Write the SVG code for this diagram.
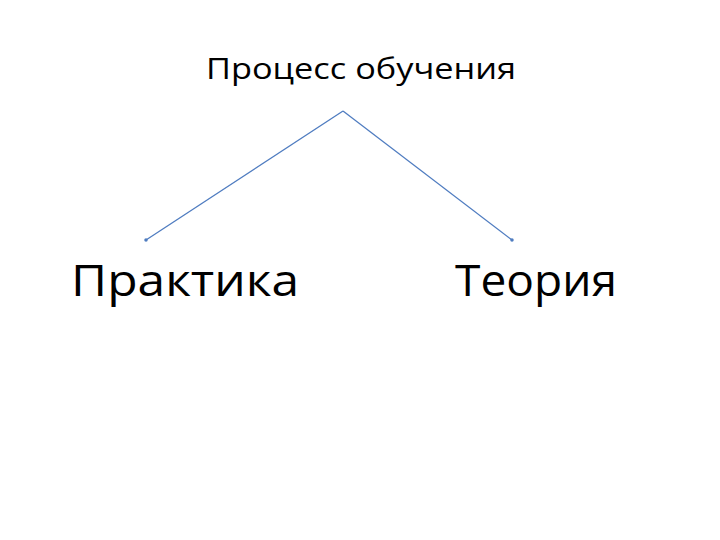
<svg xmlns="http://www.w3.org/2000/svg" width="720" height="540" viewBox="0 0 720 540">
<style>
.t{font-family:"Open Sans","Noto Sans","DejaVu Sans",sans-serif;fill:#000}
.c{stroke:#4f7cc0;stroke-width:1.3;fill:none}
</style>
<defs>
<marker id="dot" viewBox="0 0 4 4" refX="2" refY="2" markerWidth="3" markerHeight="3" markerUnits="strokeWidth"><circle cx="2" cy="2" r="1.8" fill="#4f7cc0"/></marker>
</defs>
<rect width="720" height="540" fill="#fff"/>
<g id="connectors">
<line class="c" x1="343" y1="111" x2="146" y2="240" marker-end="url(#dot)"/>
<line class="c" x1="343" y1="111" x2="512" y2="240" marker-end="url(#dot)"/>
</g>
<g id="process"><text class="t" x="206" y="79" font-size="30" textLength="310" lengthAdjust="spacingAndGlyphs">Процесс обучения</text></g>
<g id="practice"><text class="t" x="71" y="296" font-size="43" textLength="228" lengthAdjust="spacingAndGlyphs">Практика</text></g>
<g id="theory"><text class="t" x="455" y="296" font-size="43" textLength="162" lengthAdjust="spacingAndGlyphs">Теория</text></g>
</svg>
